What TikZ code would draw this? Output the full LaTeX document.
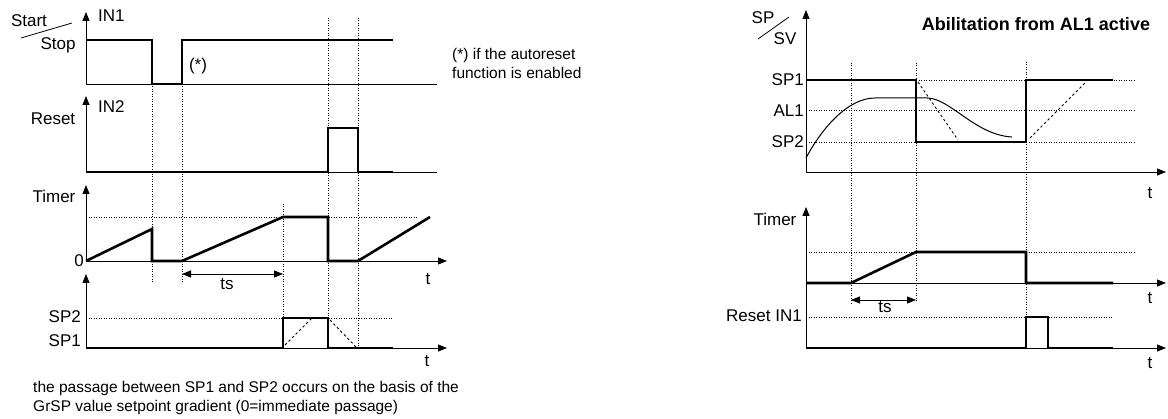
\documentclass[tikz,border=0pt]{standalone}
\usepackage{fontspec}
\setmainfont{Liberation Sans}
\usetikzlibrary{arrows.meta}

\begin{document}
\begin{tikzpicture}[
    x=1pt, y=-1pt,
    sig/.style={line width=2.6pt},
    axis/.style={line width=0.8pt},
    axarrow/.style={axis, -{Triangle[length=9pt,width=7pt]}},
    guide/.style={line width=0.7pt, dash pattern=on 1pt off 1.5pt},
    grad/.style={line width=0.9pt, dash pattern=on 2.5pt off 2.5pt},
    span/.style={line width=0.8pt, {Triangle[length=9pt,width=7pt]}-{Triangle[length=9pt,width=7pt]}},
    lbl/.style={font=\fontsize{17}{19}\selectfont, inner sep=0pt},
    note/.style={font=\fontsize{15.5}{19}\selectfont, inner sep=0pt, align=left},
    title/.style={font=\fontsize{18}{20}\selectfont\bfseries, inner sep=0pt}
  ]
    \useasboundingbox (0,0) rectangle (1168,419);

    % left diagram: time marks
    \foreach \gx/\gtop/\gbot in {152/84/282, 182/84/282, 283/204/348, 328/18/348, 358/18/348}
      \draw[guide] (\gx,\gtop) -- (\gx,\gbot);

    % IN1 (start/stop)
    \draw[axarrow] (86,84) -- (86,12);
    \draw[axis] (86,84) -- (437,84);
    \draw[sig] (86,40) -- (152,40) -- (152,84) -- (182,84) -- (182,40) -- (393,40);
    \node[lbl] (start) at (29,21) {Start};
    \node[lbl] (stop) at (58,45) {Stop};
    \draw[axis] (21,38) -- (72,23);
    \node[lbl, anchor=west] (in1) at (98,16) {IN1};
    \node[lbl] (aster) at (198,66) {(*)};
    \node[note, anchor=west] (autonote) at (452,63) {(*) if the autoreset\\function is enabled};

    % IN2 (reset)
    \draw[axarrow] (86,172) -- (86,96);
    \draw[axis] (86,172) -- (437,172);
    \draw[sig] (86,172) -- (328,172) -- (328,128) -- (358,128) -- (358,172) -- (393,172);
    \node[lbl] (reset) at (53,119) {Reset};
    \node[lbl, anchor=west] (in2) at (98,107) {IN2};

    % timer
    \draw[guide] (86,217) -- (417,217);
    \draw[axarrow] (86,261) -- (86,185);
    \draw[axarrow] (86,261) -- (447,261);
    \draw[sig] (86,261) -- (152,229) -- (152,261) -- (182,261) -- (283,217) -- (328,217)
      -- (328,261) -- (358,261) -- (430,217);
    \node[lbl] (timerL) at (54,196) {Timer};
    \node[lbl] (zero) at (79,261) {0};
    \node[lbl] (tTimerL) at (428,279) {t};
    \draw[span] (182,274) -- (283,274);
    \node[lbl] (tsL) at (227,284) {ts};

    % setpoint
    \draw[guide] (86,318) -- (393,318);
    \draw[axarrow] (86,348) -- (86,274);
    \draw[axarrow] (86,348) -- (447,348);
    \draw[sig] (86,348) -- (283,348) -- (283,318) -- (328,318) -- (328,348) -- (393,348);
    \draw[grad] (285,345) -- (312,318);
    \draw[grad] (330,320) -- (357,348);
    \node[lbl, anchor=east] (sp2L) at (81,317) {SP2};
    \node[lbl, anchor=east] (sp1L) at (81,341) {SP1};
    \node[lbl] (tSpL) at (427,361) {t};
    \node[note, anchor=north west] (gradnote) at (33,381)
      {the passage between SP1 and SP2 occurs on the basis of the\\GrSP value setpoint gradient (0=immediate passage)};

    % right diagram: time marks
    \foreach \gx/\gtop/\gbot in {851/63/304, 916/63/303, 1026/62/317}
      \draw[guide] (\gx,\gtop) -- (\gx,\gbot);

    % SP/SV
    \foreach \gy in {80,110,142}
      \draw[guide] (806,\gy) -- (1136,\gy);
    \draw[axarrow] (806,172) -- (806,10);
    \draw[axarrow] (806,172) -- (1166,172);
    \draw[sig] (806,80) -- (916,80) -- (916,142) -- (1026,142) -- (1026,80) -- (1113,80);
    \draw[grad] (918,82) -- (958,140);
    \draw[grad] (1030,138) -- (1086,82);
    \draw[line width=1pt] (806,158) .. controls (822,128) and (848,98) .. (875,98) -- (927,98)
      .. controls (950,98) and (975,135) .. (1012,137);
    \node[lbl] (spR) at (763,18) {SP};
    \node[lbl] (svR) at (785,39) {SV};
    \draw[axis] (758,39) -- (789,17);
    \node[lbl, anchor=east] (sp1R) at (804,80) {SP1};
    \node[lbl, anchor=east] (al1R) at (804,111) {AL1};
    \node[lbl, anchor=east] (sp2R) at (804,142) {SP2};
    \node[title] (abil) at (1036,24) {Abilitation from AL1 active};
    \node[lbl] (tSpR) at (1150,193) {t};

    % timer
    \draw[guide] (806,252) -- (1136,252);
    \draw[axarrow] (806,348) -- (806,207);
    \draw[axarrow] (806,283) -- (1166,283);
    \draw[sig] (806,283) -- (851,283) -- (916,252) -- (1026,252) -- (1026,283) -- (1113,283);
    \node[lbl] (timerR) at (775,219) {Timer};
    \node[lbl] (tTimerR) at (1150,298) {t};
    \draw[span] (851,300) -- (916,300);
    \node[lbl] (tsR) at (885,307) {ts};

    % reset IN1
    \draw[guide] (806,317) -- (1113,317);
    \draw[axarrow] (806,348) -- (1166,348);
    \draw[sig] (806,348) -- (1026,348) -- (1026,317) -- (1048,317) -- (1048,348) -- (1113,348);
    \node[lbl, anchor=east] (resetR) at (802,316) {Reset IN1};
    \node[lbl] (tResetR) at (1150,363) {t};
  \end{tikzpicture}
\end{document}
